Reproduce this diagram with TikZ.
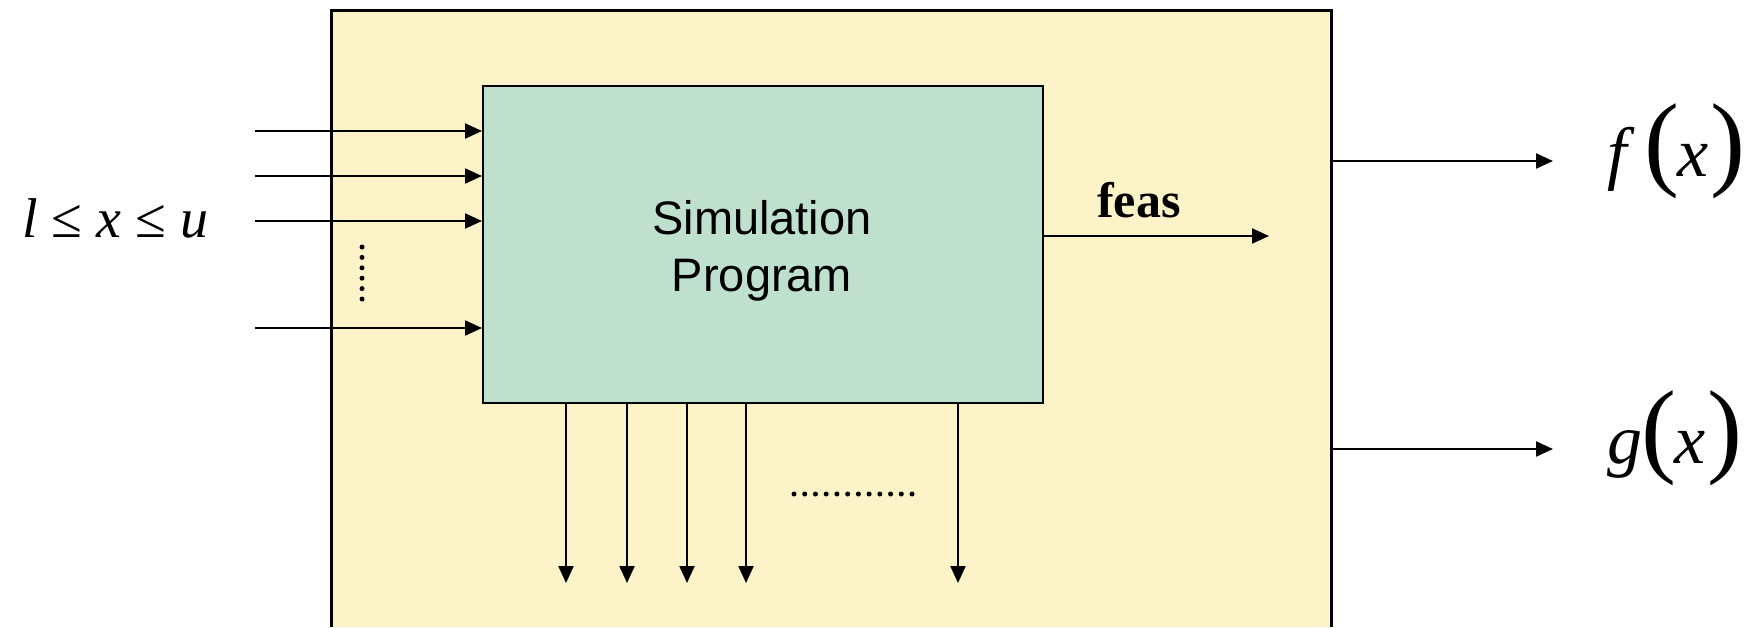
\documentclass[tikz,border=0pt]{standalone}
\usepackage{fontspec}
\setmainfont{Liberation Serif}
\setsansfont{Liberation Sans}
\usetikzlibrary{arrows.meta}

\definecolor{panelyellow}{RGB}{253,243,200}
\definecolor{simteal}{RGB}{192,224,206}

% function label: italic name, tall upright parentheses round an italic x
\newcommand\fnlab[2]{{\fontsize{70}{70}\selectfont\itshape #1}\kern#2{\fontsize{105}{105}\selectfont(}\kern-2pt{\fontsize{70}{70}\selectfont\itshape x}\kern2pt{\fontsize{105}{105}\selectfont)}}

\begin{document}
\begin{tikzpicture}[x=1pt,y=-1pt,
  flow/.style={draw=black, line width=2.2pt, -{Triangle[length=17pt,width=15pt]}},
  dotmark/.style={fill=black},
  plain/.style={inner sep=0pt, anchor=base west}
]
\useasboundingbox (0,0) rectangle (1749,627);

% outer panel, open at the bottom
\fill[panelyellow] (331,10) rectangle (1331,627);
\draw[line width=3pt] (331,627) -- (331,10) -- (1331,10) -- (1331,627);

% simulation block
\node[draw, line width=2pt, fill=simteal, minimum width=560pt, minimum height=317pt,
      inner sep=0pt, anchor=north west] (sim) at (482,85) {};
\node[font=\sffamily\fontsize{47}{57}\selectfont, align=center] (simtext) at (762,250.5) {Simulation\\Program};

% inputs
\node[plain, font=\fontsize{56}{56}\selectfont] (bounds) at (22,237) {\textit{l} ≤ \textit{x} ≤ \textit{u}};
\foreach \y [count=\i] in {131,176,221,328} {
  \coordinate (in\i) at (255,\y);
  \draw[flow] (in\i) -- (sim.west |- in\i);
}
\foreach \k in {0,...,5} \fill[dotmark] (362,247+10.4*\k) circle (2.5pt);

% feasibility flag
\node[plain, font=\fontsize{50}{50}\selectfont\bfseries] (feas) at (1097,217) {feas};
\coordinate (feasend) at (1269,236);
\draw[flow] (sim.east |- feasend) -- (feasend);

% intermediate outputs
\foreach \x [count=\i] in {566,627,687,746,958} {
  \coordinate (out\i) at (\x,583);
  \draw[flow] (sim.south -| out\i) -- (out\i);
}
\foreach \k in {0,...,11} \fill[dotmark] (794+10.73*\k,494) circle (2.5pt);

% objective and constraint outputs
\coordinate (fstart) at (1331,161);
\coordinate (fend) at (1553,161);
\draw[flow] (fstart) -- (fend);
\node[plain] (fx) at (1607,176) {\fnlab{f}{17.5pt}};

\coordinate (gstart) at (1331,449);
\coordinate (gend) at (1553,449);
\draw[flow] (gstart) -- (gend);
\node[plain] (gx) at (1607,463) {\fnlab{g}{-1pt}};
\end{tikzpicture}
\end{document}
